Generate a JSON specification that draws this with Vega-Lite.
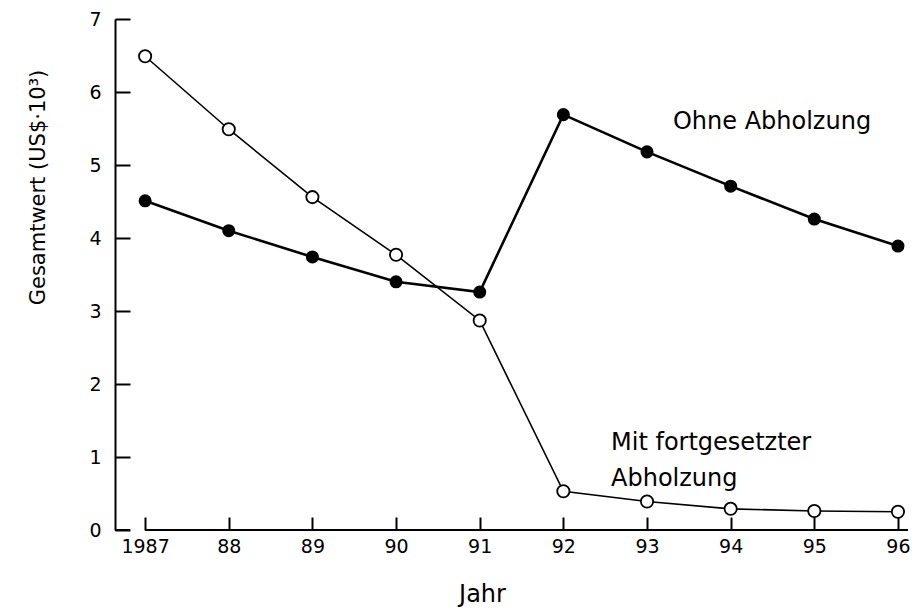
{
  "$schema": "https://vega.github.io/schema/vega-lite/v6.json",
  "autosize": {"type": "none"},
  "padding": {"left": 115, "top": 19, "right": 4, "bottom": 79},
  "width": 793,
  "height": 511,
  "background": "white",
  "config": {
    "view": {"stroke": null},
    "font": "DejaVu Sans",
    "axis": {"labelColor": "black", "titleColor": "black", "domainColor": "black", "tickColor": "black", "grid": false, "labelFont": "DejaVu Sans", "titleFont": "DejaVu Sans", "titleFontWeight": "normal"}
  },
  "datasets": {
    "werte": [
      {"jahr": 1987, "wert": 4.51, "reihe": "Ohne Abholzung"},
      {"jahr": 1988, "wert": 4.10, "reihe": "Ohne Abholzung"},
      {"jahr": 1989, "wert": 3.74, "reihe": "Ohne Abholzung"},
      {"jahr": 1990, "wert": 3.40, "reihe": "Ohne Abholzung"},
      {"jahr": 1991, "wert": 3.26, "reihe": "Ohne Abholzung"},
      {"jahr": 1992, "wert": 5.69, "reihe": "Ohne Abholzung"},
      {"jahr": 1993, "wert": 5.18, "reihe": "Ohne Abholzung"},
      {"jahr": 1994, "wert": 4.71, "reihe": "Ohne Abholzung"},
      {"jahr": 1995, "wert": 4.26, "reihe": "Ohne Abholzung"},
      {"jahr": 1996, "wert": 3.89, "reihe": "Ohne Abholzung"},
      {"jahr": 1987, "wert": 6.49, "reihe": "Mit fortgesetzter Abholzung"},
      {"jahr": 1988, "wert": 5.49, "reihe": "Mit fortgesetzter Abholzung"},
      {"jahr": 1989, "wert": 4.56, "reihe": "Mit fortgesetzter Abholzung"},
      {"jahr": 1990, "wert": 3.77, "reihe": "Mit fortgesetzter Abholzung"},
      {"jahr": 1991, "wert": 2.87, "reihe": "Mit fortgesetzter Abholzung"},
      {"jahr": 1992, "wert": 0.53, "reihe": "Mit fortgesetzter Abholzung"},
      {"jahr": 1993, "wert": 0.39, "reihe": "Mit fortgesetzter Abholzung"},
      {"jahr": 1994, "wert": 0.29, "reihe": "Mit fortgesetzter Abholzung"},
      {"jahr": 1995, "wert": 0.26, "reihe": "Mit fortgesetzter Abholzung"},
      {"jahr": 1996, "wert": 0.25, "reihe": "Mit fortgesetzter Abholzung"}
    ],
    "beschriftung": [
      {"zeile": "Ohne Abholzung", "jahr": 1993.31, "wert": 5.49},
      {"zeile": "Mit fortgesetzter", "jahr": 1992.57, "wert": 1.10},
      {"zeile": "Abholzung", "jahr": 1992.57, "wert": 0.60}
    ],
    "achse": [
      {"von": 1987, "bis": 1996.12, "wert": 0},
      {"von": 1986.64, "bis": 1986.82, "wert": 0}
    ]
  },
  "layer": [
    {
      "data": {"name": "achse"},
      "mark": {"type": "rule", "color": "black", "strokeWidth": 2},
      "encoding": {
        "x": {
          "field": "von",
          "type": "quantitative",
          "scale": {"domain": [1986.64, 1996.12], "nice": false, "zero": false},
          "axis": {
            "values": [1987, 1988, 1989, 1990, 1991, 1992, 1993, 1994, 1995, 1996],
            "labelExpr": "datum.value == 1987 ? '1987' : slice(toString(datum.value), 2)",
            "domain": false,
            "tickSize": -13,
            "tickWidth": 2,
            "labelPadding": 20,
            "labelFontSize": 19,
            "title": "Jahr",
            "titleFontSize": 24,
            "titleX": 367,
            "titleY": 71,
            "titleBaseline": "alphabetic"
          }
        },
        "x2": {"field": "bis"},
        "y": {
          "field": "wert",
          "type": "quantitative",
          "scale": {"domain": [0, 7], "nice": false},
          "axis": {
            "values": [0, 1, 2, 3, 4, 5, 6, 7],
            "format": "d",
            "domainWidth": 2,
            "tickSize": -15,
            "tickWidth": 2,
            "labelPadding": 29,
            "labelFontSize": 19,
            "title": "Gesamtwert (US$·10³)",
            "titleFontSize": 21,
            "titleX": -71,
            "titleY": 168,
            "titleBaseline": "alphabetic"
          }
        }
      }
    },
    {
      "data": {"name": "werte"},
      "transform": [{"filter": "datum.reihe == 'Ohne Abholzung'"}],
      "mark": {"type": "line", "color": "black", "strokeWidth": 2.6},
      "encoding": {
        "x": {"field": "jahr", "type": "quantitative"},
        "y": {"field": "wert", "type": "quantitative"}
      }
    },
    {
      "data": {"name": "werte"},
      "transform": [{"filter": "datum.reihe == 'Mit fortgesetzter Abholzung'"}],
      "mark": {"type": "line", "color": "black", "strokeWidth": 1.6},
      "encoding": {
        "x": {"field": "jahr", "type": "quantitative"},
        "y": {"field": "wert", "type": "quantitative"}
      }
    },
    {
      "data": {"name": "werte"},
      "transform": [{"filter": "datum.reihe == 'Ohne Abholzung'"}],
      "mark": {"type": "point", "shape": "circle", "filled": true, "color": "black", "size": 170, "opacity": 1},
      "encoding": {
        "x": {"field": "jahr", "type": "quantitative"},
        "y": {"field": "wert", "type": "quantitative"}
      }
    },
    {
      "data": {"name": "werte"},
      "transform": [{"filter": "datum.reihe == 'Mit fortgesetzter Abholzung'"}],
      "mark": {"type": "point", "shape": "circle", "filled": true, "fill": "white", "stroke": "black", "strokeWidth": 1.8, "size": 150, "opacity": 1},
      "encoding": {
        "x": {"field": "jahr", "type": "quantitative"},
        "y": {"field": "wert", "type": "quantitative"}
      }
    },
    {
      "data": {"name": "beschriftung"},
      "mark": {"type": "text", "align": "left", "baseline": "alphabetic", "fontSize": 24, "color": "black"},
      "encoding": {
        "x": {"field": "jahr", "type": "quantitative"},
        "y": {"field": "wert", "type": "quantitative"},
        "text": {"field": "zeile"}
      }
    }
  ]
}
